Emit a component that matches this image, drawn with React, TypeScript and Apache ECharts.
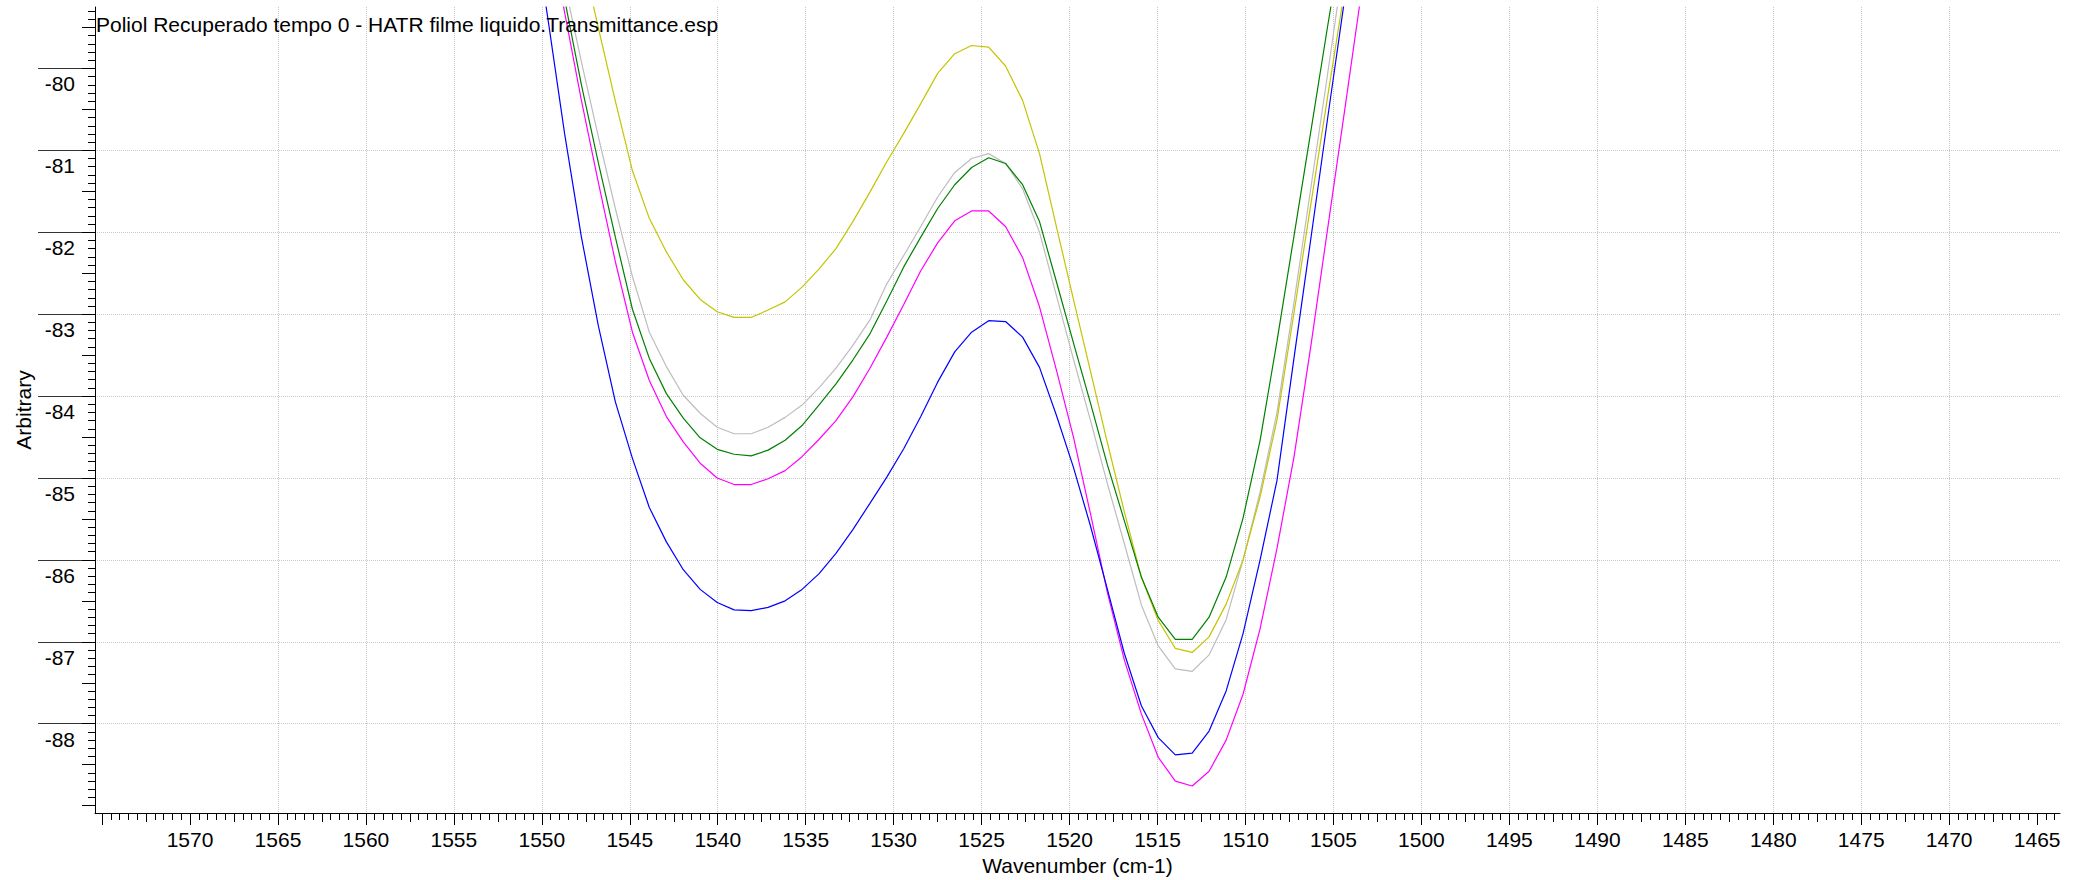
import React, { useEffect, useRef } from 'react';
import * as echarts from 'echarts';

const FONT = 'Liberation Sans, Arial, sans-serif';

const titleText = 'Poliol Recuperado tempo 0 - HATR filme liquido.Transmittance.esp';
const xAxisName = 'Wavenumber (cm-1)';
const yAxisName = 'Arbitrary';

const X_MIN = 1463.7;
const X_MAX = 1575.4;
const Y_MIN = -89.09;
const Y_MAX = -79.25;

const xTickLabels = [1570, 1565, 1560, 1555, 1550, 1545, 1540, 1535, 1530, 1525, 1520, 1515, 1510, 1505, 1500, 1495, 1490, 1485, 1480, 1475, 1470, 1465];
const yTickLabels = [-88, -87, -86, -85, -84, -83, -82, -81, -80];
const yGridValues = [-89, -88, -87, -86, -85, -84, -83, -82, -81, -80];

const wavenumbers = [1550.64, 1549.67, 1548.71, 1547.75, 1546.78, 1545.82, 1544.85, 1543.89, 1542.92, 1541.96, 1541.0, 1540.03, 1539.07, 1538.1, 1537.14, 1536.17, 1535.21, 1534.25, 1533.28, 1532.32, 1531.35, 1530.39, 1529.42, 1528.46, 1527.5, 1526.53, 1525.57, 1524.6, 1523.64, 1522.67, 1521.71, 1520.74, 1519.78, 1518.82, 1517.85, 1516.89, 1515.92, 1514.96, 1513.99, 1513.03, 1512.07, 1511.1, 1510.14, 1509.17, 1508.21, 1507.24, 1506.28, 1505.32, 1504.35, 1503.39];

const blueValues = [-78.0, -79.37, -80.79, -82.06, -83.15, -84.07, -84.76, -85.36, -85.78, -86.12, -86.36, -86.52, -86.61, -86.62, -86.58, -86.5, -86.36, -86.17, -85.92, -85.63, -85.31, -84.99, -84.64, -84.25, -83.83, -83.46, -83.22, -83.08, -83.09, -83.28, -83.65, -84.24, -84.87, -85.58, -86.36, -87.14, -87.78, -88.17, -88.38, -88.36, -88.09, -87.6, -86.9, -86.0, -85.03, -83.53, -82.07, -80.59, -79.13, -77.7];
const magentaValues = [-77.0, -78.2, -79.31, -80.39, -81.4, -82.36, -83.22, -83.81, -84.25, -84.56, -84.82, -85.0, -85.08, -85.08, -85.01, -84.91, -84.74, -84.53, -84.3, -84.01, -83.66, -83.28, -82.88, -82.47, -82.13, -81.86, -81.74, -81.74, -81.93, -82.31, -82.91, -83.69, -84.5, -85.43, -86.4, -87.22, -87.88, -88.41, -88.7, -88.76, -88.58, -88.2, -87.64, -86.84, -85.86, -84.74, -83.38, -81.94, -80.49, -79.04];
const greenValues = [-77.0, -78.1, -79.15, -80.2, -81.16, -82.06, -82.94, -83.54, -83.97, -84.27, -84.51, -84.65, -84.71, -84.73, -84.66, -84.54, -84.36, -84.11, -83.85, -83.56, -83.24, -82.84, -82.42, -82.06, -81.71, -81.42, -81.21, -81.09, -81.16, -81.42, -81.87, -82.61, -83.35, -84.08, -84.84, -85.52, -86.21, -86.7, -86.97, -86.97, -86.7, -86.21, -85.49, -84.54, -83.33, -82.04, -80.76, -79.47, -78.2, -76.9];
const grayValues = [-76.9, -78.0, -78.96, -79.92, -80.84, -81.71, -82.54, -83.22, -83.64, -83.99, -84.21, -84.38, -84.46, -84.46, -84.38, -84.26, -84.11, -83.9, -83.66, -83.38, -83.07, -82.63, -82.28, -81.93, -81.57, -81.27, -81.1, -81.04, -81.16, -81.47, -82.0, -82.78, -83.55, -84.29, -85.07, -85.8, -86.55, -87.05, -87.33, -87.36, -87.16, -86.73, -86.0, -85.17, -84.2, -82.85, -81.45, -80.05, -78.6, -77.2];
const yellowValues = [-75.5, -76.7, -77.7, -78.6, -79.51, -80.4, -81.25, -81.83, -82.24, -82.58, -82.82, -82.97, -83.04, -83.04, -82.95, -82.85, -82.67, -82.45, -82.2, -81.87, -81.51, -81.14, -80.79, -80.43, -80.06, -79.82, -79.72, -79.74, -79.97, -80.39, -81.04, -81.94, -82.82, -83.69, -84.57, -85.41, -86.21, -86.74, -87.08, -87.13, -86.94, -86.54, -86.0, -85.23, -84.29, -82.98, -81.65, -80.33, -79.02, -77.7];

const seriesDefs = [
  { name: 'gray', color: '#bdbdbd', values: grayValues },
  { name: 'yellow', color: '#c4c400', values: yellowValues },
  { name: 'green', color: '#008000', values: greenValues },
  { name: 'magenta', color: '#ff00ff', values: magentaValues },
  { name: 'blue', color: '#0000ff', values: blueValues },
];

function range(from: number, to: number, step: number): number[] {
  const out: number[] = [];
  const n = Math.round((to - from) / step);
  for (let i = 0; i <= n; i++) out.push(Math.round((from + i * step) * 1000) / 1000);
  return out;
}

const xMidTicks = range(1465, 1575, 2.5);
const xMinorTicks = range(1464, 1575, 0.5);
const yHalfTicks = range(-89, -79.5, 0.5);
const yMinorTicks = range(-89, -79.3, 0.1);

function tickOnlyX(values: number[], length: number) {
  return {
    type: 'value', min: X_MIN, max: X_MAX, inverse: true, position: 'bottom',
    axisLine: { show: false, onZero: false },
    axisLabel: { show: false },
    splitLine: { show: false },
    axisTick: { show: true, customValues: values, length, lineStyle: { color: '#000', width: 1 } },
  };
}

function tickOnlyY(values: number[], length: number, grid = false) {
  return {
    type: 'value', min: Y_MIN, max: Y_MAX, position: 'left',
    axisLine: { show: false, onZero: false },
    axisLabel: { show: false },
    splitLine: { show: grid, showMinLine: false, showMaxLine: false, lineStyle: { color: '#c8c8c8', type: 'dotted', width: 1 } },
    axisTick: { show: true, customValues: values, length, lineStyle: { color: '#000', width: 1 } },
  };
}

export default function App() {
  const ref = useRef<HTMLDivElement>(null);
  useEffect(() => {
    const chart = echarts.init(ref.current!, null, { renderer: 'svg' });
    const option: any = {
      animation: false,
      backgroundColor: '#ffffff',
      textStyle: { fontFamily: FONT },
      title: {
        text: titleText, left: 96, top: 14, padding: 0,
        textStyle: { fontSize: 21, fontWeight: 'normal', color: '#000', fontFamily: FONT },
      },
      grid: { left: 95, right: 25, top: 7, bottom: 67, containLabel: false, outerBoundsMode: 'none' },
      xAxis: [
        {
          type: 'value', min: X_MIN, max: X_MAX, inverse: true, position: 'bottom',
          name: xAxisName, nameLocation: 'middle', nameGap: 40,
          nameTextStyle: { fontSize: 21, color: '#000', fontFamily: FONT },
          axisLine: { show: true, onZero: false, lineStyle: { color: '#000', width: 1 } },
          axisTick: { show: true, customValues: xTickLabels, length: 12, lineStyle: { color: '#000', width: 1 } },
          axisLabel: {
            show: true, customValues: xTickLabels, margin: 16, fontSize: 21, color: '#000', fontFamily: FONT,
            formatter: (v: number) => String(v),
          },
          splitLine: { show: true, showMinLine: false, showMaxLine: false, lineStyle: { color: '#c8c8c8', type: 'dotted', width: 1 } },
        },
        tickOnlyX(xMidTicks, 9),
        tickOnlyX(xMinorTicks, 7),
        tickOnlyX([1575], 12),
      ],
      yAxis: [
        {
          type: 'value', min: Y_MIN, max: Y_MAX, position: 'left',
          name: yAxisName, nameLocation: 'middle', nameGap: 61,
          nameTextStyle: { fontSize: 21, color: '#000', fontFamily: FONT },
          axisLine: { show: true, onZero: false, lineStyle: { color: '#000', width: 1 } },
          axisTick: { show: true, customValues: yTickLabels, length: 57, lineStyle: { color: '#333', width: 1 } },
          axisLabel: {
            show: true, customValues: yTickLabels, margin: 20, fontSize: 21, color: '#000', fontFamily: FONT,
            verticalAlign: 'top', padding: [5, 0, 0, 0], lineHeight: 21,
            formatter: (v: number) => String(v),
          },
          splitLine: { show: false },
        },
        tickOnlyY(yGridValues, 13, true),
        tickOnlyY(yHalfTicks, 13),
        tickOnlyY(yMinorTicks, 7),
      ],
      series: seriesDefs.map((s) => ({
        name: s.name,
        type: 'line',
        xAxisIndex: 0,
        yAxisIndex: 0,
        showSymbol: false,
        symbol: 'none',
        clip: true,
        lineStyle: { color: s.color, width: 1.2 },
        itemStyle: { color: s.color },
        data: wavenumbers.map((x, i) => [x, s.values[i]]),
      })),
    };
    chart.setOption(option);
    return () => chart.dispose();
  }, []);
  return (
    <div
      ref={ref}
      style={{ position: 'fixed', left: 0, top: 0, width: 2085, height: 880, background: '#fff' }}
    />
  );
}
